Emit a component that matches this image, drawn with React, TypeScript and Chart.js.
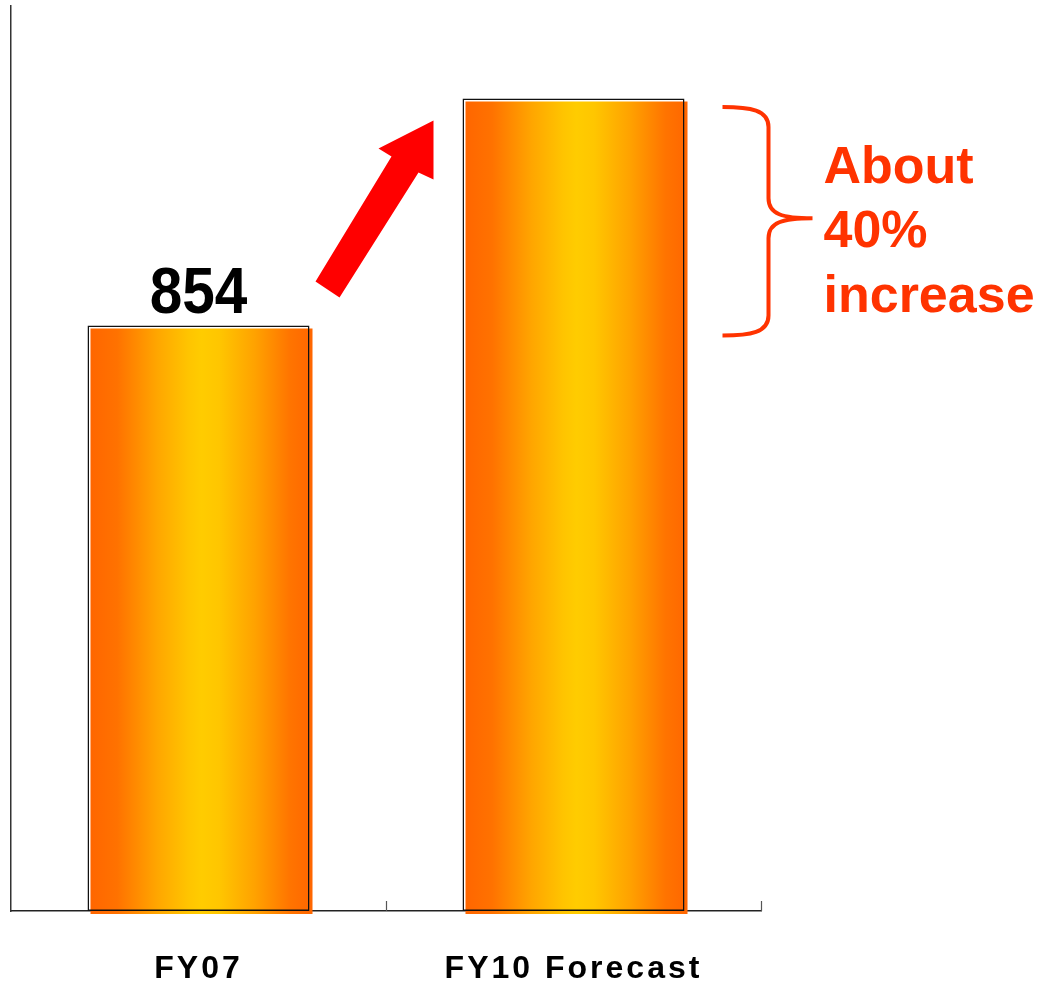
import { useEffect, useRef } from 'react';
import { Chart, registerables } from 'chart.js';

Chart.register(...registerables);

// Data
const categories = ['FY07', 'FY10 Forecast'];
const values = [854, 1185];
const showValue = [true, false];
const yMax = 1320;
const calloutLines = ['About', '40%', 'increase'];

const W = 1039;
const H = 986;
const BAR_PCT = 0.592;
const FILL_SHIFT = 3;
const CALLOUT = '#FF3300';
const FONT = '"Liberation Sans", Arial, Helvetica, sans-serif';

// cylinder-like shading: orange edges, yellow middle
function barGradient(ctx: CanvasRenderingContext2D, left: number, right: number) {
  const g = ctx.createLinearGradient(left, 0, right, 0);
  g.addColorStop(0, '#FF6600');
  g.addColorStop(0.12, '#FF7200');
  g.addColorStop(0.3, '#FFA600');
  g.addColorStop(0.44, '#FFC400');
  g.addColorStop(0.5, '#FFCC00');
  g.addColorStop(0.58, '#FFC600');
  g.addColorStop(0.74, '#FFA200');
  g.addColorStop(0.9, '#FF7400');
  g.addColorStop(1, '#FF6600');
  return g;
}

const decor = {
  id: 'decor',
  beforeDraw(chart: any) {
    chart.ctx.letterSpacing = '3px';
  },
  beforeDatasetsDraw(chart: any) {
    chart.ctx.letterSpacing = '0px';
  },
  beforeDatasetDraw(chart: any, args: any) {
    if (args.index === 0) {
      const ctx = chart.ctx;
      args.meta.data.forEach((el: any) => {
        const l = el.x - el.width / 2;
        const r = el.x + el.width / 2;
        if (isFinite(l) && isFinite(r) && r > l && !Object.isFrozen(el.options)) {
          el.options.backgroundColor = barGradient(ctx, l, r);
        }
      });
      ctx.save();
      ctx.translate(FILL_SHIFT, FILL_SHIFT);
    }
  },
  afterDatasetDraw(chart: any, args: any) {
    if (args.index === 0) chart.ctx.restore();
  },
  afterDraw(chart: any) {
    const ctx = chart.ctx as CanvasRenderingContext2D;
    const xs = chart.scales.x;
    const ys = chart.scales.y;
    const area = chart.chartArea;
    const bars = chart.getDatasetMeta(1).data as any[];

    ctx.save();
    ctx.letterSpacing = '0px';

    // inward tick marks at category boundaries
    ctx.strokeStyle = '#555';
    ctx.lineWidth = 1.2;
    for (let i = 1; i <= categories.length; i++) {
      const px = Math.round(xs.getPixelForValue(i - 0.5)) + 0.5;
      ctx.beginPath();
      ctx.moveTo(px, area.bottom);
      ctx.lineTo(px, area.bottom - 10);
      ctx.stroke();
    }

    // value labels
    bars.forEach((el, i) => {
      if (!showValue[i]) return;
      ctx.save();
      ctx.translate(el.x, el.y - 12);
      ctx.scale(0.9, 1);
      ctx.fillStyle = '#000';
      ctx.font = `bold 65px ${FONT}`;
      ctx.textAlign = 'center';
      ctx.textBaseline = 'alphabetic';
      ctx.fillText(String(values[i]), 0, 0);
      ctx.restore();
    });

    // growth arrow from the first bar towards the second
    const a = bars[0];
    const ax = a.x + a.width / 2;
    const ay = ys.getPixelForValue(values[0]);
    const arrow = [
      [6, -44], [82, -169], [69, -177], [124, -205], [124, -146], [109, -153], [30, -28],
    ];
    ctx.fillStyle = '#FF0000';
    ctx.beginPath();
    arrow.forEach(([dx, dy], k) => {
      if (k === 0) ctx.moveTo(ax + dx, ay + dy);
      else ctx.lineTo(ax + dx, ay + dy);
    });
    ctx.closePath();
    ctx.fill();

    // brace spanning the difference between the two values
    const b = bars[1];
    const bx = b.x + b.width / 2;
    const top = ys.getPixelForValue(values[1]) + 8.5;
    const bottom = ys.getPixelForValue(values[0]) + 10;
    const mid = (top + bottom) / 2 - 3;
    const xEnd = bx + 38;
    const xLine = bx + 84;
    const xTip = bx + 128;
    ctx.strokeStyle = CALLOUT;
    ctx.lineWidth = 4;
    ctx.lineJoin = 'miter';
    ctx.beginPath();
    ctx.moveTo(xEnd, top);
    ctx.bezierCurveTo(xLine - 18, top, xLine, top + 3, xLine, top + 20);
    ctx.lineTo(xLine, mid - 20);
    ctx.bezierCurveTo(xLine, mid - 4, xLine + 14, mid, xTip, mid);
    ctx.bezierCurveTo(xLine + 14, mid, xLine, mid + 4, xLine, mid + 20);
    ctx.lineTo(xLine, bottom - 20);
    ctx.bezierCurveTo(xLine, bottom - 3, xLine - 18, bottom, xEnd, bottom);
    ctx.stroke();

    // callout text
    ctx.fillStyle = CALLOUT;
    ctx.font = `bold 52px ${FONT}`;
    ctx.textAlign = 'left';
    ctx.textBaseline = 'alphabetic';
    const offsets = [-35.5, 29, 93.5];
    calloutLines.forEach((t, k) => ctx.fillText(t, bx + 139, mid + offsets[k]));

    ctx.restore();
  },
};

export default function App() {
  const ref = useRef<HTMLCanvasElement | null>(null);

  useEffect(() => {
    if (!ref.current) return;
    const chart = new Chart(ref.current, {
      type: 'bar',
      data: {
        labels: categories,
        datasets: [
          {
            data: values,
            // per-bar options (replaced by a gradient just before drawing)
            backgroundColor: () => '#FFA000',
            borderWidth: 0,
            order: 1,
            grouped: false,
            clip: false as any,
            barPercentage: BAR_PCT,
            categoryPercentage: 1,
          },
          {
            data: values,
            backgroundColor: 'rgba(0,0,0,0)',
            borderColor: '#111',
            borderWidth: 1.5,
            borderSkipped: false,
            order: 0,
            grouped: false,
            barPercentage: BAR_PCT,
            categoryPercentage: 1,
          },
        ],
      },
      options: {
        responsive: false,
        animation: false,
        devicePixelRatio: 1,
        layout: { padding: { top: 6, left: 11, right: 278, bottom: -41 } },
        plugins: {
          legend: { display: false },
          tooltip: { enabled: false },
          title: { display: false },
        },
        scales: {
          x: {
            type: 'category',
            offset: true,
            grid: { display: false, drawTicks: false },
            border: { display: true, color: '#222', width: 1.5 },
            ticks: {
              color: '#000',
              padding: 42,
              font: { family: FONT, size: 32, weight: 'bold', lineHeight: 1 },
            },
          },
          y: {
            min: 0,
            max: yMax,
            grid: { display: false, drawTicks: false },
            border: { display: true, color: '#333', width: 1.5 },
            ticks: { display: false },
          },
        },
      },
      plugins: [decor],
    });
    return () => chart.destroy();
  }, []);

  return (
    <div style={{ position: 'absolute', left: 0, top: 0, width: W, height: H, background: '#fff' }}>
      <canvas ref={ref} width={W} height={H} />
    </div>
  );
}
